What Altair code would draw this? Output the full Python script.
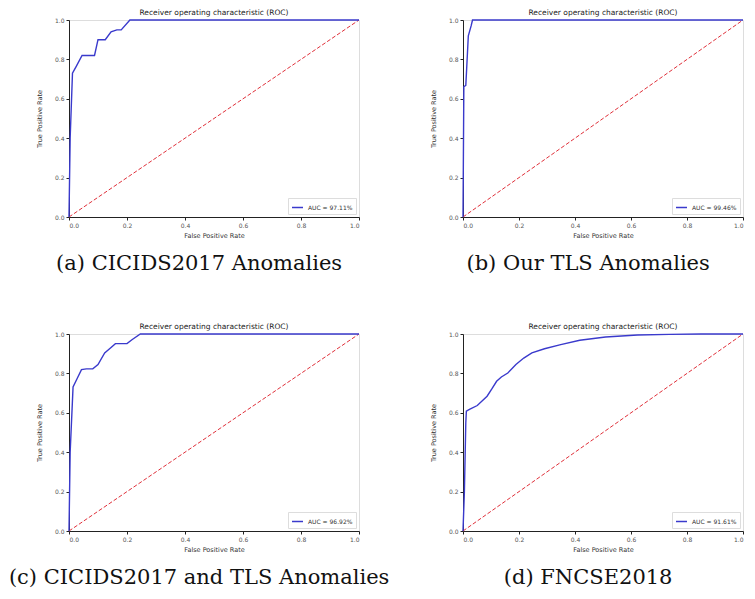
import altair as alt
import pandas as pd

# ---- data ----
fpr_a = [0.0, 0.004, 0.012, 0.025, 0.045, 0.088, 0.10, 0.125, 0.145, 0.165, 0.18, 0.21, 1.0]
tpr_a = [0.0, 0.40, 0.73, 0.765, 0.82, 0.82, 0.90, 0.90, 0.94, 0.95, 0.95, 1.0, 1.0]

fpr_b = [0.0, 0.003, 0.010, 0.013, 0.019, 0.029, 0.034, 1.0]
tpr_b = [0.0, 0.661, 0.668, 0.75, 0.92, 0.97, 1.0, 1.0]

fpr_c = [0.0, 0.004, 0.014, 0.029, 0.043, 0.06, 0.082, 0.10, 0.123, 0.143, 0.16, 0.20, 0.217, 0.246, 1.0]
tpr_c = [0.0, 0.40, 0.731, 0.777, 0.819, 0.823, 0.823, 0.845, 0.904, 0.929, 0.951, 0.951, 0.971, 1.0, 1.0]

fpr_d = [0.0, 0.005, 0.010, 0.012, 0.023, 0.051, 0.086, 0.103, 0.12, 0.137, 0.16, 0.189, 0.217,
         0.246, 0.291, 0.349, 0.417, 0.509, 0.623, 0.737, 0.85, 1.0]
tpr_d = [0.0, 0.20, 0.55, 0.608, 0.617, 0.637, 0.684, 0.721, 0.76, 0.782, 0.802, 0.845, 0.878,
         0.904, 0.925, 0.946, 0.968, 0.985, 0.995, 0.998, 1.0, 1.0]

auc_labels = ["AUC = 97.11%", "AUC = 99.46%", "AUC = 96.92%", "AUC = 91.61%"]
captions = ["(a) CICIDS2017 Anomalies", "(b) Our TLS Anomalies",
            "(c) CICIDS2017 and TLS Anomalies", "(d) FNCSE2018"]
diag_x = [0.0, 1.0]
diag_y = [0.0, 1.0]
tick_vals = [0.0, 0.2, 0.4, 0.6, 0.8, 1.0]

PANEL_TITLE = "Receiver operating characteristic (ROC)"
BLUE = "#3a3acc"
RED = "#e0303a"
FONT = "DejaVu Sans"


def panel(fpr, tpr, auc, caption, w, h, ypad):
    roc_df = pd.DataFrame({"fpr": fpr, "tpr": tpr, "series": auc})
    diag_df = pd.DataFrame({"fpr": diag_x, "tpr": diag_y})
    xs = alt.Scale(domain=[0, 1], nice=False)
    ys = alt.Scale(domain=[0, 1], nice=False)
    xax = alt.Axis(values=tick_vals, format=".1f", title="False Positive Rate",
                   grid=False, labelFontSize=6, titleFontSize=6.5, titleFontWeight="normal",
                   tickSize=3, labelPadding=2, titlePadding=4, domainColor="#222",
                   tickColor="#222", labelColor="#555", titleColor="#333", labelFont=FONT,
                   titleFont=FONT)
    yax = alt.Axis(values=tick_vals, format=".1f", title="True Positive Rate",
                   grid=False, labelFontSize=6, titleFontSize=6.5, titleFontWeight="normal",
                   tickSize=3, labelPadding=2, titlePadding=ypad, domainColor="#222",
                   tickColor="#222", labelColor="#555", titleColor="#333", labelFont=FONT,
                   titleFont=FONT)
    diag = alt.Chart(diag_df).mark_line(color=RED, strokeDash=[4, 2], strokeWidth=1).encode(
        x=alt.X("fpr:Q", scale=xs, axis=xax),
        y=alt.Y("tpr:Q", scale=ys, axis=yax),
    )
    roc = alt.Chart(roc_df).mark_line(strokeWidth=1.4).encode(
        x=alt.X("fpr:Q", scale=xs, axis=xax),
        y=alt.Y("tpr:Q", scale=ys, axis=yax),
        color=alt.Color("series:N", scale=alt.Scale(domain=[auc], range=[BLUE]),
                        legend=alt.Legend(title=None, orient="bottom-right", symbolType="stroke",
                                          symbolSize=120, symbolStrokeWidth=1.5,
                                          labelFontSize=6, labelFont=FONT, labelColor="#333",
                                          fillColor="white", strokeColor="#ddd",
                                          padding=3, offset=3)),
    )
    layered = alt.layer(diag, roc).properties(
        width=w, height=h,
        title=alt.TitleParams(PANEL_TITLE, fontSize=7.5, fontWeight="normal", font=FONT,
                              color="#222", offset=1),
    )
    return alt.vconcat(layered).properties(
        title=alt.TitleParams(caption, orient="bottom", anchor="middle",
                              fontSize=21, font="DejaVu Serif", fontWeight="normal",
                              color="#111", offset=14)
    ).resolve_scale(color="independent")


H = 197
pa = panel(fpr_a, tpr_a, auc_labels[0], captions[0], 290, H, 12)
pb = panel(fpr_b, tpr_b, auc_labels[1], captions[1], 280, H, 12)
pc = panel(fpr_c, tpr_c, auc_labels[2], captions[2], 290, H, 12)
pd_ = panel(fpr_d, tpr_d, auc_labels[3], captions[3], 280, H, 12)

chart = alt.concat(pa, pb, pc, pd_, columns=2, spacing={"row": 48, "column": 39}).resolve_scale(
    color="independent").properties(
    padding={"left": 0, "top": 0, "right": 0, "bottom": 0}
).configure_view(stroke="#e6e6e6").configure(background="white")

chart.save("out.html", embed_options={"renderer": "svg", "actions": False})
